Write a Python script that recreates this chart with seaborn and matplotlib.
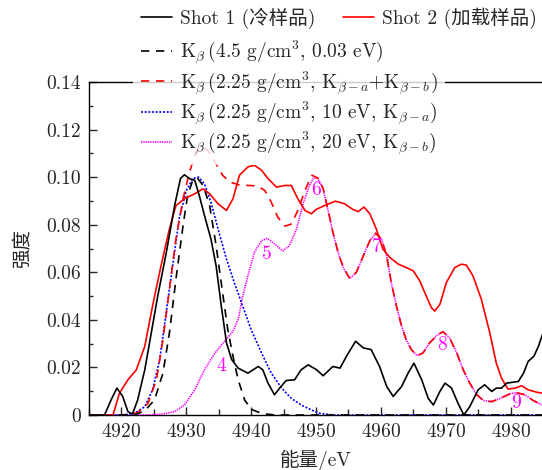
import numpy as np
import pandas as pd
import matplotlib
matplotlib.use("Agg")
import matplotlib.pyplot as plt
from matplotlib.ticker import MultipleLocator
from matplotlib.lines import Line2D
import seaborn as sns

# ---------------- data ----------------
shot1_x = [4915.0, 4917.4, 4918.4, 4919.3, 4920.2, 4921.0, 4921.7, 4922.5, 4923.6, 4924.6,
           4925.6, 4926.9, 4928.2, 4929.1, 4929.7, 4930.5, 4931.3, 4932.0, 4932.8, 4933.8,
           4934.6, 4935.4, 4936.2, 4937.0, 4938.0, 4939.5, 4941.1, 4941.8, 4942.6, 4943.6,
           4944.4, 4945.4, 4946.7, 4947.7, 4948.8, 4950.1, 4951.1, 4952.6, 4953.7, 4954.7,
           4956.1, 4957.3, 4958.5, 4959.8, 4960.9, 4961.9, 4963.2, 4964.2, 4965.1, 4966.3,
           4967.3, 4968.1, 4969.1, 4969.9, 4970.9, 4971.9, 4972.8, 4973.7, 4975.0, 4976.0,
           4977.1, 4977.8, 4978.6, 4979.4, 4981.2, 4982.0, 4982.7, 4983.6, 4984.3, 4985.0]
shot1_y = [0.0, 0.0, 0.0063, 0.0113, 0.0078, 0.0014, 0.0004, 0.0063, 0.019, 0.0345,
           0.050, 0.068, 0.088, 0.0994, 0.101, 0.0994, 0.0987, 0.0923, 0.0839, 0.074,
           0.0627, 0.0458, 0.0303, 0.0233, 0.0197, 0.0176, 0.0204, 0.019, 0.0134, 0.0085,
           0.0113, 0.0145, 0.0148, 0.019, 0.0211, 0.019, 0.0165, 0.0204, 0.0197, 0.0247,
           0.031, 0.0282, 0.0275, 0.0204, 0.012, 0.0078, 0.012, 0.0176, 0.0218, 0.0148,
           0.007, 0.0042, 0.0099, 0.0134, 0.0113, 0.0049, 0.0, 0.0035, 0.0106, 0.0127,
           0.0099, 0.0113, 0.0113, 0.0134, 0.0141, 0.0176, 0.0225, 0.0247, 0.0289, 0.0345]

shot2_x = [4915.0, 4918.7, 4919.7, 4921.0, 4922.3, 4923.6, 4924.8, 4926.1, 4927.4, 4928.4,
           4929.7, 4931.3, 4932.6, 4933.6, 4934.9, 4936.2, 4937.2, 4938.2, 4939.5, 4940.5,
           4941.6, 4942.6, 4943.9, 4945.2, 4946.2, 4947.2, 4948.3, 4949.3, 4950.0, 4951.6,
           4953.0, 4954.4, 4955.7, 4956.5, 4957.4, 4958.3, 4959.3, 4960.3, 4961.4, 4962.7,
           4963.9, 4965.0, 4966.0, 4967.0, 4967.8, 4968.3, 4969.1, 4970.1, 4971.4, 4972.4,
           4973.2, 4974.2, 4975.5, 4976.8, 4977.8, 4978.6, 4979.6, 4980.7, 4981.7, 4982.7,
           4984.0, 4985.0]
shot2_y = [0.0, 0.0, 0.0092, 0.0148, 0.019, 0.0289, 0.0458, 0.0627, 0.0782, 0.088,
           0.0909, 0.093, 0.0951, 0.093, 0.0888, 0.086, 0.0909, 0.1008, 0.1043, 0.105,
           0.1029, 0.0994, 0.0958, 0.0965, 0.0965, 0.0909, 0.086, 0.0846, 0.0864, 0.0884,
           0.0899, 0.0888, 0.0864, 0.0855, 0.0874, 0.0846, 0.0782, 0.0698, 0.0662, 0.0634,
           0.062, 0.0606, 0.0564, 0.050, 0.0451, 0.0437, 0.0465, 0.0557, 0.062, 0.0634,
           0.063, 0.0585, 0.0486, 0.0345, 0.0218, 0.0155, 0.0109, 0.0113, 0.0123, 0.0106,
           0.0096, 0.0091]

kb_cold_x = [4915.0, 4922.0, 4923.6, 4925.1, 4926.4, 4927.4, 4928.4, 4929.5, 4930.2, 4931.0,
             4931.7, 4932.6, 4933.6, 4934.6, 4935.6, 4936.4, 4937.2, 4938.0, 4939.0, 4940.0,
             4941.6, 4943.6, 4985.0]
kb_cold_y = [0.0, 0.0, 0.0018, 0.0063, 0.0176, 0.0345, 0.057, 0.0796, 0.0923, 0.0987,
             0.0996, 0.0965, 0.0881, 0.0712, 0.0514, 0.0359, 0.0247, 0.0148, 0.0063, 0.0024,
             0.0007, 0.0, 0.0]

kb_sum_x = [4915.0, 4921.0, 4922.5, 4924.1, 4925.4, 4926.4, 4927.4, 4928.4, 4929.5, 4930.5,
            4931.5, 4932.4, 4933.3, 4934.4, 4935.6, 4936.7, 4938.0, 4939.5, 4941.0, 4942.1,
            4943.1, 4944.1, 4945.2, 4946.2, 4947.2, 4948.3, 4949.0, 4949.4, 4950.3, 4951.1,
            4951.8, 4952.6, 4953.4, 4954.2, 4955.2, 4956.2, 4957.3, 4958.3, 4959.2, 4960.1,
            4960.9, 4961.6, 4962.4, 4963.2, 4963.9, 4964.7, 4965.6, 4966.5, 4967.5, 4968.8,
            4969.6, 4970.6, 4971.7, 4972.7, 4973.7, 4974.8, 4975.8, 4977.1, 4978.4, 4979.9,
            4980.9, 4982.2, 4983.5, 4985.0]
kb_sum_y = [0.0, 0.0, 0.001, 0.0049, 0.0148, 0.0317, 0.0529, 0.074, 0.0909, 0.1022,
            0.1106, 0.1128, 0.1113, 0.1064, 0.1008, 0.098, 0.0968, 0.0965, 0.0963, 0.0944,
            0.0895, 0.0832, 0.0794, 0.0803, 0.086, 0.0944, 0.0987, 0.1008, 0.0996, 0.0953,
            0.0869, 0.0769, 0.0684, 0.062, 0.0574, 0.0599, 0.0669, 0.0733, 0.0764, 0.074,
            0.0669, 0.0557, 0.0458, 0.0373, 0.0317, 0.0275, 0.0249, 0.0261, 0.0303, 0.0338,
            0.035, 0.0324, 0.0261, 0.019, 0.0134, 0.0085, 0.0061, 0.0056, 0.007, 0.0089,
            0.0094, 0.0085, 0.0061, 0.0040]

kb_a_x = [4915.0, 4920.0, 4922.0, 4923.6, 4924.8, 4925.9, 4926.9, 4927.9, 4928.9, 4930.0,
          4931.0, 4931.9, 4932.8, 4933.8, 4934.9, 4936.2, 4937.4, 4938.7, 4940.0, 4941.6,
          4943.1, 4944.7, 4946.2, 4947.7, 4949.4, 4950.6, 4952.6, 4985.0]
kb_a_y = [0.0, 0.0, 0.0007, 0.0035, 0.0106, 0.0233, 0.043, 0.0627, 0.0825, 0.0944,
          0.0994, 0.100, 0.0972, 0.0895, 0.0782, 0.0655, 0.0557, 0.0458, 0.0359, 0.0261,
          0.0176, 0.0113, 0.007, 0.0042, 0.002, 0.0007, 0.0, 0.0]

kb_b_x = [4915.0, 4923.6, 4926.1, 4928.2, 4929.7, 4931.3, 4932.8, 4934.4, 4935.9, 4937.2,
          4938.0, 4938.7, 4939.5, 4940.5, 4941.6, 4942.5, 4943.6, 4944.9, 4945.9, 4947.0,
          4948.0, 4949.0, 4949.6, 4950.3, 4951.1, 4951.8, 4952.6, 4953.4, 4954.2, 4955.2,
          4956.2, 4957.3, 4958.3, 4959.2, 4960.1, 4960.9, 4961.6, 4962.4, 4963.2, 4963.9,
          4964.7, 4965.6, 4966.5, 4967.5, 4968.8, 4969.6, 4970.6, 4971.7, 4972.7, 4973.7,
          4974.8, 4975.8, 4977.1, 4978.4, 4979.9, 4980.9, 4982.2, 4983.5, 4985.0]
kb_b_y = [0.0, 0.0, 0.0003, 0.0014, 0.0042, 0.0106, 0.019, 0.026, 0.031, 0.0352,
          0.0402, 0.050, 0.0585, 0.0684, 0.0733, 0.0743, 0.0719, 0.069, 0.0712, 0.0782,
          0.0888, 0.0965, 0.0996, 0.0994, 0.0951, 0.0867, 0.0768, 0.0684, 0.062, 0.0574,
          0.0599, 0.0669, 0.0733, 0.0764, 0.074, 0.0669, 0.0557, 0.0458, 0.0373, 0.0317,
          0.0275, 0.0249, 0.0261, 0.0303, 0.0338, 0.035, 0.0324, 0.0261, 0.019, 0.0134,
          0.0085, 0.0061, 0.0056, 0.007, 0.0089, 0.0094, 0.0085, 0.0061, 0.0040]

peak_labels = ["4", "5", "6", "7", "8", "9"]
peak_x = [4935.4, 4942.5, 4950.0, 4959.3, 4969.4, 4980.9]
peak_y = [0.0204, 0.0677, 0.0944, 0.0705, 0.0296, 0.0049]

xticks = [4920, 4930, 4940, 4950, 4960, 4970, 4980]
yticks = [0, 0.02, 0.04, 0.06, 0.08, 0.10, 0.12, 0.14]
ytick_labels = ["0", "0.02", "0.04", "0.06", "0.08", "0.10", "0.12", "0.14"]

lab_shot1 = "Shot 1 (冷样品)"
lab_shot2 = "Shot 2 (加载样品)"
lab_cold = r"K$_\beta\,$(4.5 g/cm$^3$, 0.03 eV)"
lab_sum = r"K$_\beta\,$(2.25 g/cm$^3$, K$_{\beta-a}$+K$_{\beta-b}$)"
lab_a = r"K$_\beta\,$(2.25 g/cm$^3$, 10 eV, K$_{\beta-a}$)"
lab_b = r"K$_\beta\,$(2.25 g/cm$^3$, 20 eV, K$_{\beta-b}$)"

# ---------------- style ----------------
sns.set_style("ticks")
plt.rcParams["font.family"] = ["cmr10", "Noto Sans CJK SC", "DejaVu Sans"]
plt.rcParams["mathtext.fontset"] = "cm"
plt.rcParams["axes.formatter.use_mathtext"] = True
plt.rcParams["axes.unicode_minus"] = False
FS = 14

fig = plt.figure(figsize=(5.42, 4.70), dpi=100)
ax = fig.add_axes([89 / 542, 55 / 470, 454 / 542, 333 / 470])

def draw(x, y, color, ls, lw):
    df = pd.DataFrame({"x": x, "y": y})
    sns.lineplot(data=df, x="x", y="y", ax=ax, color=color, linestyle=ls,
                 linewidth=lw, sort=False, estimator=None, zorder=3)

DASH = (0, (5, 4))
DOT_B = (0, (1.2, 1.0))
DOT_M = (0, (0.8, 0.6))

draw(kb_b_x, kb_b_y, "#ff00ff", DOT_M, 1.2)
draw(kb_a_x, kb_a_y, "#0000ff", DOT_B, 1.2)
draw(kb_sum_x, kb_sum_y, "#ff0000", DASH, 1.2)
draw(kb_cold_x, kb_cold_y, "black", DASH, 1.2)
draw(shot2_x, shot2_y, "#ff0000", "-", 1.2)
draw(shot1_x, shot1_y, "black", "-", 1.2)

for t, x, y in zip(peak_labels, peak_x, peak_y):
    ax.text(x, y, t, color="#ff00ff", fontsize=FS, ha="center", va="center", zorder=4)

ax.set_xlim(4915, 4985)
ax.set_ylim(0, 0.14)
ax.set_xticks(xticks)
ax.set_yticks(yticks)
ax.set_yticklabels(ytick_labels)
ax.xaxis.set_minor_locator(MultipleLocator(5))
ax.yaxis.set_minor_locator(MultipleLocator(0.01))
ax.tick_params(which="major", direction="in", length=5.5, width=1.0, labelsize=FS, pad=6)
ax.tick_params(which="minor", direction="in", length=3.0, width=1.0)
ax.tick_params(axis="x", which="minor", length=4.5)
ax.spines["right"].set_visible(False)
for s in ["left", "top", "bottom"]:
    ax.spines[s].set_linewidth(1.0)
    ax.spines[s].set_color("black")

ax.set_xlabel("能量/eV", fontsize=FS, labelpad=6)
ax.set_ylabel("强度", fontsize=FS, labelpad=10)

# legends
h1 = Line2D([], [], color="black", lw=1.2, ls="-")
h2 = Line2D([], [], color="#ff0000", lw=1.2, ls="-")
leg1 = ax.legend([h1, h2], [lab_shot1, lab_shot2], ncol=2, loc="upper left",
                 bbox_to_anchor=(133 / 542, 1.0), bbox_transform=fig.transFigure,
                 fontsize=FS, frameon=True, framealpha=0.8, edgecolor="none",
                 facecolor="white", handlelength=1.6, handletextpad=0.4,
                 columnspacing=1.45, borderpad=0.4, borderaxespad=0, fancybox=False)
ax.add_artist(leg1)

h3 = Line2D([], [], color="black", lw=1.2, ls=DASH)
h4 = Line2D([], [], color="#ff0000", lw=1.2, ls=DASH)
h5 = Line2D([], [], color="#0000ff", lw=1.2, ls=DOT_B)
h6 = Line2D([], [], color="#ff00ff", lw=1.2, ls=DOT_M)
leg2 = ax.legend([h3, h4, h5, h6], [lab_cold, lab_sum, lab_a, lab_b], loc="upper left",
                 bbox_to_anchor=(133 / 542, 1 - 31 / 470), bbox_transform=fig.transFigure,
                 fontsize=FS, frameon=True, framealpha=0.8, edgecolor="none",
                 facecolor="white", handlelength=1.6, handletextpad=0.4,
                 labelspacing=0.15, borderpad=0.4, borderaxespad=0, fancybox=False)

fig.savefig("out.png", dpi=100)
